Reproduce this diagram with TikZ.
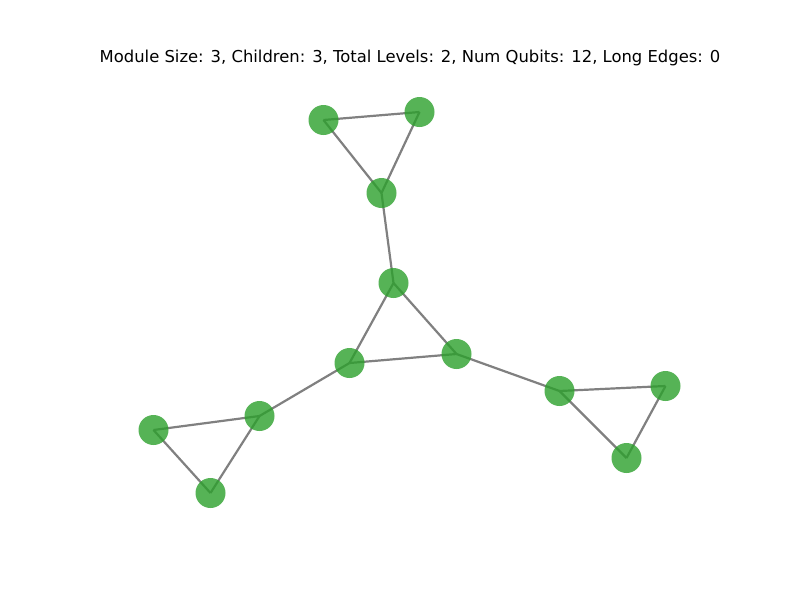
\documentclass[tikz,border=0pt]{standalone}
\usepackage{fontspec}
\setmainfont{DejaVu Sans}
\definecolor{nodegreen}{RGB}{44,160,44}
\definecolor{edgegray}{RGB}{128,128,128}
\begin{document}
\begin{tikzpicture}[x=1pt,y=-1pt,
  qubit/.style={circle,fill=nodegreen,fill opacity=0.8,draw=none,minimum size=30pt,inner sep=0pt},
  edge/.style={draw=edgegray,line width=2.2pt}]
\useasboundingbox[fill=white] (0,0) rectangle (800,600);
\node[font=\fontsize{16.4}{19}\selectfont] (title) at (410,58) {Module Size: 3, Children: 3, Total Levels: 2, Num Qubits: 12, Long Edges: 0};
\coordinate (A1) at (323.5,120);
\coordinate (A2) at (419.5,112);
\coordinate (A3) at (381.5,193);
\coordinate (B1) at (393.5,283);
\coordinate (B2) at (349.5,363);
\coordinate (B3) at (456.5,354);
\coordinate (C1) at (259.5,416);
\coordinate (C2) at (153.5,430);
\coordinate (C3) at (210.5,493);
\coordinate (D1) at (559.5,391);
\coordinate (D2) at (665.5,386);
\coordinate (D3) at (626.5,458);
\foreach \a/\b in {A1/A2,A1/A3,A2/A3,A3/B1,B1/B2,B1/B3,B2/B3,B2/C1,C1/C2,C1/C3,C2/C3,B3/D1,D1/D2,D1/D3,D2/D3}
  \draw[edge] (\a) -- (\b);
\foreach \n in {A1,A2,A3,B1,B2,B3,C1,C2,C3,D1,D2,D3}
  \node[qubit] (n\n) at (\n) {};
\end{tikzpicture}
\end{document}
